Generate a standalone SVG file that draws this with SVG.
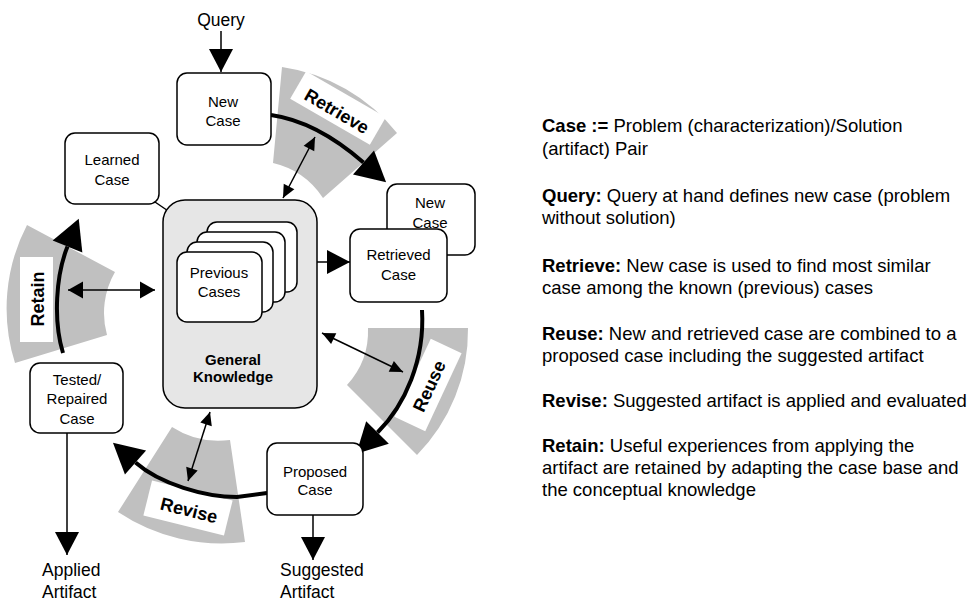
<svg xmlns="http://www.w3.org/2000/svg" width="972" height="603" viewBox="0 0 972 603">
<style>
.box{fill:#fff;stroke:#000;stroke-width:1.5}
.gk{fill:#e6e6e6;stroke:#000;stroke-width:1.5}
.t{font-family:"Liberation Sans",Arial,sans-serif;font-size:15px;text-anchor:middle;fill:#000}
.b{font-weight:bold}
.sector{fill:#c0c0c0}
.lbl{fill:#fff}
.lt{font-family:"Liberation Sans",Arial,sans-serif;font-size:18px;font-weight:bold;text-anchor:middle;fill:#000}
.thin{stroke:#000;stroke-width:1.5;fill:none}
.thick{stroke:#000;stroke-width:4;fill:none}
.io{font-family:"Liberation Sans",Arial,sans-serif;font-size:17.5px;fill:#000}
.desc{font-family:"Liberation Sans",Arial,sans-serif;font-size:18.5px;fill:#000}
</style>
<defs>
<marker id="big" markerUnits="userSpaceOnUse" viewBox="0 -17 31 34" markerWidth="31" markerHeight="34" refX="0" refY="0" orient="auto" overflow="visible"><path d="M0,-16 L30,0 L0,16 Z" fill="#000"/></marker>
<marker id="med" markerUnits="userSpaceOnUse" viewBox="-23 -12 23 24" markerWidth="23" markerHeight="24" refX="0" refY="0" orient="auto" overflow="visible"><path d="M-23,-12 L0,0 L-23,12 Z" fill="#000"/></marker>
<marker id="sm" markerUnits="userSpaceOnUse" viewBox="-13 -6 13 12" markerWidth="13" markerHeight="12" refX="0" refY="0" orient="auto-start-reverse" overflow="visible"><path d="M-13,-6 L0,0 L-13,6 Z" fill="#000"/></marker>
<marker id="smr" markerUnits="userSpaceOnUse" viewBox="-15 -8.5 15 17" markerWidth="15" markerHeight="17" refX="0" refY="0" orient="auto-start-reverse" overflow="visible"><path d="M-15,-8.5 L0,0 L-15,8.5 Z" fill="#000"/></marker>
</defs>
<rect width="972" height="603" fill="#fff"/>

<g id="phases">
  <g id="phase-retrieve">
    <path class="sector" d="M282,67 A180,180 0 0,1 397,133 L323,198 A82,82 0 0,0 273,163 Z"/>
    <rect class="lbl" x="-46" y="-16" width="92" height="32" transform="translate(338,108) rotate(30)"/>
    <text class="lt" x="0" y="6.5" transform="translate(337,111) rotate(30)">Retrieve</text>
  </g>
  <g id="phase-reuse">
    <path class="sector" d="M368,328 L468,328 A178,178 0 0,1 417,455 L347,385 A80,80 0 0,0 368,328 Z"/>
    <rect class="lbl" x="-43" y="-17" width="86" height="34" transform="translate(428,385) rotate(-65)"/>
    <text class="lt" x="0" y="6.5" transform="translate(429,386) rotate(-65)">Reuse</text>
  </g>
  <g id="phase-revise">
    <path class="sector" d="M172,427 A86,86 0 0,0 230,440 L245,542 A187,187 0 0,1 118,512 Z"/>
    <rect class="lbl" x="-41.5" y="-18" width="83" height="36" transform="translate(188,508) rotate(14)"/>
    <text class="lt" x="0" y="6.5" transform="translate(189,510) rotate(14)">Revise</text>
  </g>
  <g id="phase-retain">
    <path class="sector" d="M27,225 L115,272 A82,82 0 0,0 107,335 L15,363 A181,181 0 0,1 27,225 Z"/>
    <rect class="lbl" x="20" y="257" width="33" height="85"/>
    <text class="lt" x="0" y="6.5" transform="translate(37,299) rotate(-90)">Retain</text>
  </g>
</g>

<g id="connectors">
  <path class="thick" d="M271,115 Q316.5,121.5 363.5,162.5" marker-end="url(#big)"/>
  <path class="thick" d="M422,310 C425,360 405,405 377.5,432.5" marker-end="url(#big)"/>
  <path class="thick" d="M267,493 L237,497 C205,497 160,484 135.5,462.5" marker-end="url(#big)"/>
  <path class="thick" d="M63,353 C53,320 56,275 67.5,246.5" marker-end="url(#big)"/>
  <line class="thin" x1="221" y1="31" x2="221" y2="72" marker-end="url(#med)"/>
  <line class="thin" x1="67" y1="433" x2="67" y2="555" marker-end="url(#med)"/>
  <line class="thin" x1="313" y1="515" x2="313" y2="560" marker-end="url(#med)"/>
  <line class="thin" x1="298" y1="262" x2="350" y2="262" marker-end="url(#med)"/>
  <line class="thin" x1="155" y1="202" x2="199" y2="232" marker-end="url(#med)"/>
  <line class="thin" x1="283" y1="198" x2="315" y2="137" marker-start="url(#sm)" marker-end="url(#sm)"/>
  <line class="thin" x1="68" y1="290" x2="155" y2="290" marker-start="url(#smr)" marker-end="url(#smr)"/>
  <line class="thin" x1="322" y1="333" x2="403" y2="372" marker-start="url(#sm)" marker-end="url(#sm)"/>
  <line class="thin" x1="210" y1="412" x2="188" y2="481" marker-start="url(#sm)" marker-end="url(#sm)"/>
</g>

<g id="query">
  <text class="io" x="221" y="26" text-anchor="middle">Query</text>
</g>

<g id="new-case">
  <rect class="box" x="177" y="73" width="94" height="72" rx="10"/>
  <text class="t" x="223" y="107">New</text>
  <text class="t" x="223" y="126">Case</text>
</g>

<g id="new-case-2">
  <rect class="box" x="387" y="184" width="88" height="71" rx="10"/>
  <text class="t" x="430" y="208">New</text>
  <text class="t" x="430" y="228">Case</text>
</g>

<g id="retrieved-case">
  <rect class="box" x="350" y="229" width="97" height="73" rx="10"/>
  <text class="t" x="398.5" y="260">Retrieved</text>
  <text class="t" x="398.5" y="280">Case</text>
</g>

<g id="general-knowledge">
  <rect class="gk" x="163" y="200" width="154" height="208" rx="22"/>
  <text class="t b" x="233" y="365" font-size="14">General</text>
  <text class="t b" x="233" y="382" font-size="14">Knowledge</text>
</g>

<g id="previous-cases">
  <rect class="box" x="207" y="222" width="90" height="70" rx="10"/>
  <rect class="box" x="197" y="232" width="88" height="70" rx="10"/>
  <rect class="box" x="187" y="242" width="86" height="70" rx="10"/>
  <rect class="box" x="177" y="252" width="85" height="70" rx="10"/>
  <text class="t" x="219" y="278">Previous</text>
  <text class="t" x="219" y="297">Cases</text>
</g>

<g id="learned-case">
  <rect class="box" x="65" y="133" width="94" height="71" rx="10"/>
  <text class="t" x="112" y="165">Learned</text>
  <text class="t" x="112" y="185">Case</text>
</g>

<g id="tested-case">
  <rect class="box" x="30" y="363" width="93" height="70" rx="10"/>
  <text class="t" x="77" y="385">Tested/</text>
  <text class="t" x="77" y="404">Repaired</text>
  <text class="t" x="77" y="424">Case</text>
</g>

<g id="proposed-case">
  <rect class="box" x="267" y="443" width="96" height="72" rx="10"/>
  <text class="t" x="315" y="477">Proposed</text>
  <text class="t" x="315" y="495">Case</text>
</g>

<g id="applied-artifact">
  <text class="io" x="42" y="576">Applied</text>
  <text class="io" x="42" y="598">Artifact</text>
</g>

<g id="suggested-artifact">
  <text class="io" x="280" y="576">Suggested</text>
  <text class="io" x="280" y="598">Artifact</text>
</g>

<g id="legend">
  <text class="desc" x="542" y="132"><tspan font-weight="bold">Case :=</tspan> Problem (characterization)/Solution</text>
  <text class="desc" x="542" y="155">(artifact) Pair</text>
  <text class="desc" x="542" y="202"><tspan font-weight="bold">Query:</tspan> Query at hand defines new case (problem</text>
  <text class="desc" x="542" y="224">without solution)</text>
  <text class="desc" x="542" y="272"><tspan font-weight="bold">Retrieve:</tspan> New case is used to find most similar</text>
  <text class="desc" x="542" y="294">case among the known (previous) cases</text>
  <text class="desc" x="542" y="340"><tspan font-weight="bold">Reuse:</tspan> New and retrieved case are combined to a</text>
  <text class="desc" x="542" y="362">proposed case including the suggested artifact</text>
  <text class="desc" x="542" y="407"><tspan font-weight="bold">Revise:</tspan> Suggested artifact is applied and evaluated</text>
  <text class="desc" x="542" y="452"><tspan font-weight="bold">Retain:</tspan>  Useful experiences from applying the</text>
  <text class="desc" x="542" y="474">artifact are retained by adapting the case base and</text>
  <text class="desc" x="542" y="496">the conceptual knowledge</text>
</g>
</svg>
